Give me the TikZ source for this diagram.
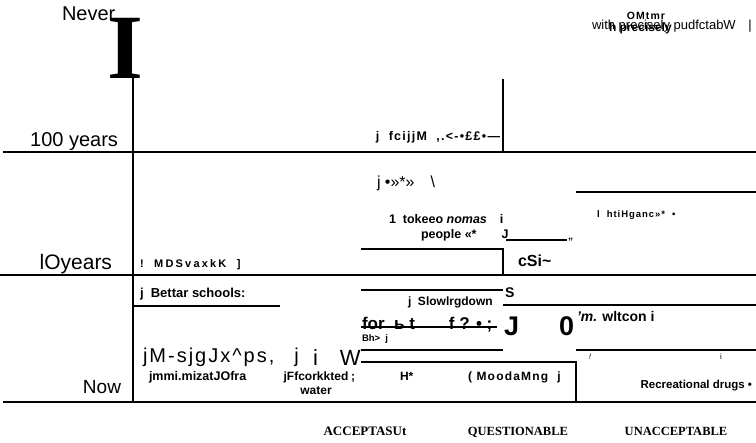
\documentclass[tikz,border=0pt]{standalone}
\usepackage{graphicx}
\usepackage{fontspec}
\setmainfont{Liberation Sans}
\newfontfamily\tnr{Liberation Serif}
\newfontfamily\spc{Liberation Sans}[LetterSpace=10]
\newfontfamily\spcw{Liberation Sans}[LetterSpace=20]
\newcommand\myfs[1]{\fontsize{#1}{#1}\selectfont}
\begin{document}
\begin{tikzpicture}[x=1pt,y=-1pt,
  t/.style={inner sep=0pt, outer sep=0pt},
  rule/.style={line width=1.1pt}]
\useasboundingbox (0,0) rectangle (756,443);
% rules
\draw[rule] (3,152) -- (756,152);
\draw[rule] (0,275) -- (756,275);
\draw[rule] (3,402) -- (756,402);
\draw[rule] (133,78) -- (133,402);
\draw[rule] (503,79) -- (503,152);
\draw[rule] (576,192) -- (756,192);
\draw[rule] (506,240) -- (567,240);
\draw[rule] (361,249) -- (503,249) -- (503,275);
\draw[rule] (361,290) -- (503,290);
\draw[rule] (133,306) -- (280,306);
\draw[rule] (503,305) -- (756,305);
\draw[rule] (361,327) -- (497,327);
\draw[rule] (361,350) -- (503,350);
\draw[rule] (576,350) -- (756,350);
\draw[rule] (361,362) -- (576,362) -- (576,402);
% left labels
\node[t, anchor=base west, font=\myfs{20}] (never) at (62,21) {Never};
\node[t, anchor=south] (bigI) at (125,78.5) {\scalebox{2}{\tnr\bfseries\fontsize{46}{46}\selectfont I}};
\node[t, anchor=base east, font=\myfs{20}] (y100) at (118,147) {100 years};
\node[t, anchor=base east, font=\myfs{21}] (y10) at (112,270) {lOyears};
\node[t, anchor=base east, font=\myfs{19}] (now) at (121,394) {Now};
% top right
\node[t, anchor=base, font=\spc\bfseries\myfs{10.5}] (omtmr) at (646,20) {OMtmr};
\node[t, anchor=base west, font=\myfs{13}] (with) at (592,30) {with precisely pudfctabW};
\node[t, anchor=base west, font=\bfseries\myfs{12}] (prec) at (609,32) {h precisely};
\node[t, anchor=base, font=\myfs{13}] (bar) at (750,30) {|};
\node[t, anchor=base east, font=\spc\bfseries\myfs{12.5}] (fcij) at (500,141) {j\ \ fcijjM\ \ ,.<-•££•—};
% middle band
\node[t, anchor=base west, font=\myfs{16}] (dots) at (377,188) {j •»*»\quad\textbackslash};
\node[t, anchor=base west, font=\bfseries\myfs{12.5}] (tok) at (389,224) {1\ \ tokeeo \textit{nomas}\hspace{13pt}i};
\node[t, anchor=base west, font=\bfseries\myfs{12.5}] (peop) at (421,239) {people «*\qquad J};
\node[t, anchor=base west, font=\bfseries\myfs{10}] (quo) at (568,240) {„};
\node[t, anchor=base west, font=\spc\bfseries\myfs{9.5}] (hti) at (597,218) {l\ \ htiHganc»*\ \ •};
\node[t, anchor=base west, font=\bfseries\myfs{16}] (csi) at (518,267) {cSi\textasciitilde};
\node[t, anchor=base west, font=\spcw\bfseries\myfs{11}] (mds) at (140,268) {!\ \ MDSvaxkK\ \ ]};
% lower band
\node[t, anchor=base west, font=\bfseries\myfs{13}] (bett) at (140,298) {j\ \ Bettar schools:};
\node[t, anchor=base west, font=\spc\myfs{20}] (jms) at (143,363) {jM-sjgJx\textasciicircum ps,\quad j};
\node[t, anchor=base west, font=\bfseries\myfs{12.5}] (jmmi) at (149,381) {jmmi.mizatJOfra};
\node[t, anchor=base west, font=\myfs{22}] (iw) at (313,366) {i\quad W};
\node[t, anchor=base west, font=\bfseries\myfs{9.5}] (bh) at (362,342) {Bh>\ \ j};
\node[t, anchor=base west, font=\bfseries\myfs{17}] (for) at (362,330) {for\ \ ь t\qquad f ? • ;};
\node[t, anchor=base west, font=\bfseries\myfs{27}] (bigJ) at (504,336) {J};
\node[t, anchor=base west, font=\bfseries\myfs{14}] (S) at (505,298) {S};
\node[t, anchor=base west, font=\bfseries\myfs{12}] (slow) at (408,306) {j\ \ Slowlrgdown};
\node[t, anchor=base west, font=\bfseries\myfs{27}] (zero) at (559,336) {0};
\node[t, anchor=base west, font=\bfseries\myfs{14}] (wlt) at (577,322) {\textit{’m.} wltcon i};
\node[t, anchor=base, font=\bfseries\myfs{12}] (fcork) at (316,381) {jFfcorkkted};
\node[t, anchor=base, font=\bfseries\myfs{12}] (water) at (316,395) {water};
\node[t, anchor=base, font=\bfseries\myfs{12}] (semi) at (353,381) {;};
\node[t, anchor=base west, font=\bfseries\myfs{12}] (hstar) at (400,381) {H*};
\node[t, anchor=base west, font=\spc\bfseries\myfs{12}] (mood) at (468,381) {(\ MoodaMng\ \ j};
\node[t, anchor=base, font=\itshape\myfs{8}] (excl) at (590,360) {!};
\node[t, anchor=base, font=\myfs{8}] (ii) at (721,360) {i};
\node[t, anchor=base east, font=\bfseries\myfs{11.5}] (rec) at (752,389) {Recreational drugs •};
% bottom headers
\node[t, anchor=base, font=\tnr\bfseries\myfs{13}] (acc) at (365,436) {ACCEPTASUt};
\node[t, anchor=base, font=\tnr\bfseries\myfs{12.5}] (que) at (518,436) {QUESTIONABLE};
\node[t, anchor=base, font=\tnr\bfseries\myfs{12.5}] (una) at (676,436) {UNACCEPTABLE};
\end{tikzpicture}
\end{document}
